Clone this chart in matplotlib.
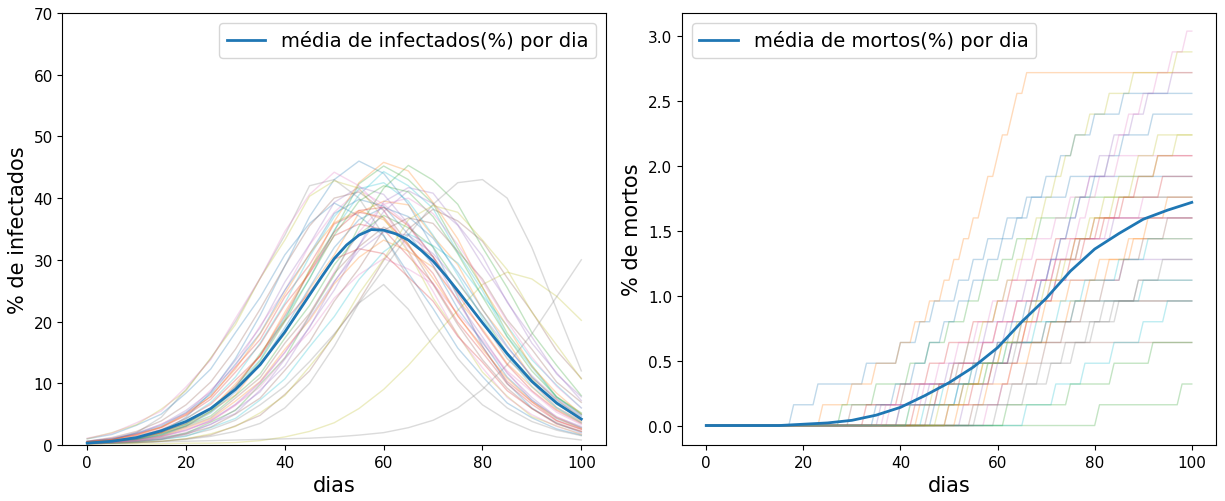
#!/usr/bin/env python3

import matplotlib
matplotlib.use("Agg")
import matplotlib.pyplot as plt


# dias amostrados a cada 5 dias
DAYS = list(range(0, 101, 5))

# media de infectados (%) por dia
MEAN_INF_DAYS = [0, 5, 10, 15, 20, 25, 30, 35, 40, 45, 47.5, 50, 52.5, 55, 57.5, 60,
                 62.5, 65, 67.5, 70, 72.5, 75, 80, 85, 90, 95, 100]
MEAN_INFECTED = [0.3, 0.6, 1.2, 2.3, 3.8, 5.9, 9.0, 13.0, 18.3, 24.3, 27.3, 30.2, 32.4,
                 34.0, 34.9, 34.8, 34.2, 33.2, 31.6, 29.8, 27.5, 25.0, 19.8, 14.8, 10.3,
                 6.8, 4.2]

# media de mortos (%) por dia
MEAN_DEAD = [0.0, 0.0, 0.0, 0.0, 0.01, 0.02, 0.04, 0.08, 0.14, 0.23, 0.33, 0.45,
             0.60, 0.80, 0.98, 1.19, 1.36, 1.48, 1.59, 1.66, 1.72]

# simulacoes individuais: % de infectados
INF_01 = [0.3, 0.5, 1.0, 2.0, 4.5, 8.5, 14.0, 21.0, 29.0, 37.0, 43.0, 46.0, 44.0, 39.0, 32.0, 24.0, 16.0, 10.0, 6.0, 3.5, 2.0]
INF_02 = [0.4, 0.6, 1.1, 1.9, 3.0, 5.5, 8.1, 13.2, 18.0, 25.3, 30.8, 37.6, 39.5, 38.9, 33.8, 29.2, 21.9, 16.8, 10.9, 7.4, 4.3]
INF_03 = [0.4, 0.7, 1.2, 2.1, 3.4, 6.0, 9.2, 14.8, 20.3, 28.4, 34.6, 42.3, 45.2, 43.0, 39.1, 31.9, 25.6, 18.1, 12.9, 7.8, 5.2]
INF_04 = [0.5, 0.9, 1.8, 2.9, 5.1, 7.8, 12.6, 17.1, 24.0, 29.2, 35.8, 37.7, 36.9, 32.2, 27.8, 20.9, 15.9, 10.3, 7.0, 4.0, 2.6]
INF_05 = [0.3, 0.4, 0.7, 1.0, 2.0, 3.3, 5.7, 8.6, 13.9, 19.0, 26.4, 32.3, 39.4, 41.7, 40.8, 35.7, 30.6, 23.1, 17.5, 11.5, 7.8]
INF_06 = [0.3, 0.5, 0.9, 1.5, 2.9, 4.4, 7.6, 10.9, 16.5, 21.3, 27.8, 32.1, 35.3, 33.2, 30.5, 24.8, 19.9, 14.0, 10.1, 6.1, 3.9]
INF_07 = [0.6, 1.1, 1.7, 3.4, 5.1, 8.9, 12.8, 19.3, 25.0, 32.4, 37.7, 41.3, 39.0, 35.7, 29.1, 23.4, 16.5, 11.8, 7.2, 4.6, 2.8]
INF_08 = [0.3, 0.8, 2.0, 4.5, 9.0, 14.0, 20.0, 27.0, 34.0, 42.0, 43.0, 40.0, 34.0, 27.0, 20.0, 14.0, 9.5, 6.0, 3.8, 2.4, 1.5]
INF_09 = [0.2, 0.2, 0.2, 0.2, 0.3, 0.3, 0.4, 0.7, 1.3, 2.2, 3.6, 5.9, 9.0, 12.9, 17.4, 21.8, 26.0, 28.0, 26.9, 24.1, 20.2]
INF_10 = [0.4, 0.7, 1.0, 2.1, 3.6, 5.5, 9.5, 13.8, 20.7, 26.9, 34.8, 40.5, 44.3, 42.0, 38.3, 31.2, 25.0, 17.6, 12.6, 7.7, 4.9]
INF_11 = [1.0, 1.7, 3.2, 5.0, 8.4, 12.3, 18.2, 23.9, 30.8, 35.9, 39.2, 37.1, 33.9, 27.8, 22.1, 15.7, 11.1, 6.8, 4.4, 2.6, 1.6]
INF_12 = [0.3, 0.5, 0.8, 1.4, 2.7, 4.2, 7.1, 10.3, 15.5, 20.2, 26.1, 30.4, 33.2, 31.4, 28.8, 23.5, 18.8, 13.2, 9.4, 5.8, 3.7]
INF_13 = [0.3, 0.5, 0.7, 1.2, 1.9, 3.7, 5.6, 9.8, 14.1, 21.0, 27.5, 35.4, 41.6, 45.3, 42.9, 39.0, 32.0, 25.5, 18.2, 12.9, 8.0]
INF_14 = [0.5, 0.9, 1.7, 2.8, 4.8, 7.4, 11.8, 16.3, 22.7, 27.8, 33.9, 35.8, 34.9, 30.6, 26.2, 19.9, 15.0, 9.9, 6.6, 3.9, 2.5]
INF_15 = [0.6, 1.0, 2.0, 3.3, 5.6, 8.6, 13.7, 19.0, 26.4, 32.5, 39.3, 41.8, 40.6, 35.8, 30.5, 23.2, 17.5, 11.6, 7.7, 4.5, 3.0]
INF_16 = [0.2, 0.3, 0.4, 0.6, 1.0, 1.6, 3.1, 4.8, 8.2, 12.0, 17.8, 23.3, 29.9, 35.0, 38.2, 36.3, 33.0, 27.1, 21.6, 15.3, 10.8]
INF_17 = [0.3, 0.4, 0.8, 1.3, 2.5, 3.8, 6.5, 9.4, 14.1, 18.3, 23.8, 27.6, 30.2, 28.5, 26.1, 21.3, 17.0, 12.0, 8.6, 5.3, 3.3]
INF_18 = [0.2, 0.3, 0.5, 0.9, 1.5, 2.5, 4.0, 6.5, 9.5, 13.5, 18.0, 23.0, 28.5, 34.0, 39.0, 42.5, 43.0, 40.0, 32.0, 22.0, 12.0]
INF_19 = [1.0, 2.0, 3.3, 5.8, 8.8, 14.1, 19.5, 27.0, 33.2, 40.3, 42.8, 41.6, 36.7, 31.3, 23.8, 17.9, 11.8, 7.9, 4.6, 3.1, 1.7]
INF_20 = [0.3, 0.3, 0.5, 0.9, 1.4, 2.8, 4.3, 7.3, 10.7, 15.9, 20.8, 26.8, 31.3, 34.2, 32.3, 29.5, 24.2, 19.3, 13.8, 9.7, 6.0]
INF_21 = [0.6, 1.0, 1.9, 3.1, 5.3, 8.2, 13.1, 18.1, 25.1, 30.9, 37.5, 39.8, 38.7, 34.1, 29.1, 22.1, 16.7, 11.0, 7.3, 4.3, 2.8]
INF_22 = [0.5, 0.7, 1.2, 2.0, 3.8, 5.8, 9.9, 14.4, 21.5, 28.2, 36.2, 42.5, 45.8, 44.4, 39.3, 33.4, 25.5, 19.2, 12.7, 8.4, 5.0]
INF_23 = [0.4, 0.6, 0.9, 1.6, 3.1, 4.7, 8.0, 11.5, 17.3, 22.6, 29.2, 34.1, 37.2, 35.2, 32.1, 26.3, 21.0, 14.9, 10.6, 6.6, 4.2]
INF_24 = [0.5, 0.8, 1.5, 2.5, 4.3, 6.6, 10.5, 14.4, 20.1, 24.7, 30.1, 31.8, 31.0, 27.2, 23.3, 17.6, 13.4, 8.8, 5.9, 3.4, 2.2]
INF_25 = [0.3, 0.4, 0.6, 1.1, 1.7, 3.4, 5.1, 8.9, 12.8, 19.2, 25.1, 32.3, 37.8, 41.2, 39.1, 35.6, 29.2, 23.3, 16.5, 11.7, 7.2]
INF_26 = [0.6, 1.2, 2.2, 3.9, 6.5, 10.2, 15.5, 22.0, 29.0, 35.5, 40.0, 41.0, 38.0, 32.5, 26.0, 19.5, 13.8, 9.2, 5.9, 3.6, 2.2]
INF_27 = [1.1, 1.9, 3.6, 5.5, 9.4, 13.8, 20.5, 27.0, 34.6, 40.6, 44.2, 42.0, 38.1, 31.4, 24.9, 17.7, 12.5, 7.7, 4.9, 3.0, 1.8]
INF_28 = [0.2, 0.3, 0.4, 0.5, 0.6, 0.7, 0.8, 0.9, 1.0, 1.1, 1.3, 1.6, 2.0, 2.8, 4.0, 6.0, 9.0, 13.0, 18.0, 24.0, 30.0]
INF_29 = [0.2, 0.3, 0.4, 0.6, 1.0, 1.8, 3.0, 5.2, 8.0, 12.7, 17.6, 24.5, 30.1, 36.5, 38.8, 37.7, 33.2, 28.4, 21.5, 16.2, 10.7]
INF_30 = [0.4, 0.7, 1.3, 2.4, 4.2, 6.9, 11.0, 16.5, 23.0, 30.5, 37.0, 41.5, 42.5, 39.5, 34.0, 27.5, 20.5, 14.5, 9.5, 6.0, 3.6]
INF_31 = [0.3, 0.5, 0.9, 1.7, 3.1, 5.2, 8.6, 13.0, 19.0, 25.5, 32.0, 36.5, 38.5, 37.0, 33.5, 28.0, 22.0, 16.0, 11.0, 7.2, 4.6]
INF_32 = [0.5, 0.9, 1.6, 2.9, 4.9, 7.9, 12.3, 18.0, 24.5, 31.0, 36.0, 38.0, 36.5, 32.5, 27.0, 21.0, 15.5, 10.8, 7.0, 4.4, 2.7]
INF_33 = [0.3, 0.6, 1.0, 1.8, 3.3, 5.4, 9.0, 13.6, 20.0, 27.0, 34.0, 39.5, 42.0, 41.0, 37.0, 31.0, 24.0, 17.5, 12.0, 7.8, 5.0]
INF_34 = [0.4, 0.6, 1.1, 2.0, 3.5, 5.8, 9.5, 14.5, 21.0, 28.0, 34.5, 38.0, 38.5, 35.5, 30.5, 24.5, 18.5, 13.0, 8.8, 5.6, 3.5]
INF_35 = [0.3, 0.5, 0.8, 1.4, 2.4, 4.0, 6.6, 10.2, 15.0, 20.5, 26.5, 31.5, 34.5, 34.0, 31.0, 26.5, 21.0, 15.8, 11.2, 7.5, 4.8]
INF_36 = [0.3, 0.4, 0.6, 0.9, 1.8, 2.9, 5.0, 7.6, 12.1, 16.7, 23.3, 28.6, 34.8, 36.8, 35.9, 31.4, 26.9, 20.3, 15.5, 10.2, 6.9]
INF_37 = [0.3, 0.4, 0.7, 1.3, 2.3, 3.9, 6.4, 10.0, 15.0, 21.0, 28.0, 34.5, 39.0, 40.0, 37.5, 32.5, 26.5, 20.0, 14.2, 9.5, 6.0]
INF_38 = [0.2, 0.3, 0.4, 0.6, 0.9, 1.4, 2.2, 3.5, 6.0, 10.0, 16.0, 23.0, 26.0, 22.0, 16.0, 10.5, 6.5, 4.0, 2.3, 1.3, 0.8]

INFECTED_RUNS = [INF_01, INF_02, INF_03, INF_04, INF_05, INF_06, INF_07, INF_08, INF_09, INF_10,
                 INF_11, INF_12, INF_13, INF_14, INF_15, INF_16, INF_17, INF_18, INF_19, INF_20,
                 INF_21, INF_22, INF_23, INF_24, INF_25, INF_26, INF_27, INF_28, INF_29, INF_30,
                 INF_31, INF_32, INF_33, INF_34, INF_35, INF_36, INF_37, INF_38]

# cada morte soma 0.16 % da populacao
DEATH_STEP = 0.16

# simulacoes individuais: dias em que ocorreu cada morte
DEATHS_01 = [18, 23, 33, 40, 44, 47, 52, 55, 58, 62, 66, 75]
DEATHS_02 = [24, 30, 35, 40, 43, 46, 49, 51, 53, 55, 57, 58, 60, 61, 63, 64, 66]
DEATHS_03 = [28, 35, 42, 46, 50, 54, 57, 61, 64, 69, 76]
DEATHS_04 = [33, 40, 46, 50, 55, 60, 63, 68, 72, 80]
DEATHS_05 = [36, 44, 51, 57, 62, 67, 72, 86]
DEATHS_06 = [30, 41, 52, 60]
DEATHS_07 = [38, 43, 48, 52, 56, 59, 62, 65, 68, 72, 75, 79, 85]
DEATHS_08 = [40, 48, 55, 64, 71, 82]
DEATHS_09 = [42, 47, 51, 54, 57, 60, 62, 64, 66, 68, 70, 72, 74, 76, 79, 83, 88, 97]
DEATHS_10 = [45, 52, 58, 63, 70, 76, 90]
DEATHS_11 = [47, 52, 56, 60, 63, 66, 69, 71, 73, 75, 77, 80, 83, 86, 92]
DEATHS_12 = [44, 50, 57, 61, 66, 70, 75, 81, 88]
DEATHS_13 = [81, 98]
DEATHS_14 = [50, 55, 59, 63, 66, 69, 72, 75, 78, 82, 86, 94]
DEATHS_15 = [53, 57, 60, 63, 65, 67, 69, 71, 73, 75, 77, 79, 81, 84, 88, 91, 96]
DEATHS_16 = [55, 61, 66, 70, 74, 78, 82, 86, 90, 95]
DEATHS_17 = [58, 61, 63, 65, 67, 69, 71, 73, 75, 77, 79, 81, 83, 85, 87, 90, 93, 96, 99]
DEATHS_18 = [60, 66, 71, 76, 80, 85, 89, 94]
DEATHS_19 = [48, 53, 57, 61, 64, 67, 70, 73, 76, 79, 82, 85, 89, 93]
DEATHS_20 = [66, 72, 78, 84, 90, 95]
DEATHS_21 = [35, 39, 43, 46, 49, 52, 55, 58, 61, 64, 67, 70, 73, 76, 80, 86]
DEATHS_22 = [52, 58, 63, 67, 71, 75, 79, 83, 87, 91, 95]
DEATHS_23 = [62, 75, 84, 92]
DEATHS_24 = [43, 48, 53, 57, 60, 64, 68, 72, 76, 81, 85, 89, 93]
DEATHS_25 = [40, 46, 50, 54, 58, 62, 66, 71, 77, 84]
DEATHS_26 = [46, 53, 59, 65, 70, 76]
DEATHS_27 = [37, 45, 51, 56, 60, 64, 68, 72, 77, 83, 90]
DEATHS_28 = [56, 63, 69, 74, 79, 84, 89]
DEATHS_29 = [50, 54, 58, 62, 65, 68, 71, 74, 77, 80, 84, 88, 93, 97]
DEATHS_30 = [42, 49, 55, 62, 68, 73, 78, 85, 91]

DEATH_RUNS = [DEATHS_01, DEATHS_02, DEATHS_03, DEATHS_04, DEATHS_05, DEATHS_06,
              DEATHS_07, DEATHS_08, DEATHS_09, DEATHS_10, DEATHS_11, DEATHS_12,
              DEATHS_13, DEATHS_14, DEATHS_15, DEATHS_16, DEATHS_17, DEATHS_18,
              DEATHS_19, DEATHS_20, DEATHS_21, DEATHS_22, DEATHS_23, DEATHS_24,
              DEATHS_25, DEATHS_26, DEATHS_27, DEATHS_28, DEATHS_29, DEATHS_30]

LAST_DAY = 100


def death_curve(death_days):
    # escada com subida de um dia, como na serie diaria
    xs, ys = [0], [0.0]
    for k, d in enumerate(death_days):
        xs += [d - 1, d]
        ys += [k * DEATH_STEP, (k + 1) * DEATH_STEP]
    xs.append(LAST_DAY)
    ys.append(len(death_days) * DEATH_STEP)
    return xs, ys


def plot_infected(ax):
    for run in INFECTED_RUNS:
        ax.plot(DAYS, run, linewidth=1, alpha=0.28)
    ax.plot(MEAN_INF_DAYS, MEAN_INFECTED, color="#1f77b4", linewidth=2,
            label="média de infectados(%) por dia")
    ax.set_ylim(0, 70)
    ax.set_xlim(-5, 105)
    ax.set_xlabel("dias", fontsize=15)
    ax.set_ylabel("% de infectados", fontsize=15)
    ax.tick_params(labelsize=11)
    ax.legend(loc="upper right", fontsize=14)


def plot_dead(ax):
    for run in DEATH_RUNS:
        xs, ys = death_curve(run)
        ax.plot(xs, ys, linewidth=1, alpha=0.28)
    ax.plot(DAYS, MEAN_DEAD, color="#1f77b4", linewidth=2,
            label="média de mortos(%) por dia")
    ax.set_ylim(-0.15, 3.18)
    ax.set_xlim(-5, 105)
    ax.set_xlabel("dias", fontsize=15)
    ax.set_ylabel("% de mortos", fontsize=15)
    ax.tick_params(labelsize=11)
    ax.legend(loc="upper left", fontsize=14)


def main():
    fig = plt.figure(figsize=(12.25, 5.02), dpi=100)
    ax1 = fig.add_axes([0.051, 0.1116, 0.4437, 0.8606])
    ax2 = fig.add_axes([0.5567, 0.1116, 0.436, 0.8606])

    plot_infected(ax1)
    plot_dead(ax2)

    fig.savefig("out.png", dpi=100)
    plt.close(fig)


if __name__ == "__main__":
    main()
